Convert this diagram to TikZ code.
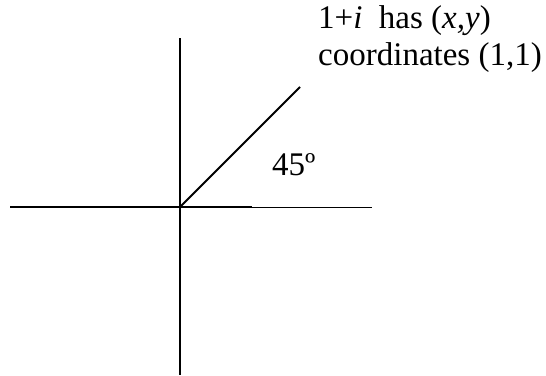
\documentclass[tikz,border=0pt]{standalone}
\usepackage{fontspec}
\setmainfont{Liberation Serif}
\begin{document}
\begin{tikzpicture}[x=1pt,y=-1pt,
  axis/.style={line width=1.8pt},
  thinaxis/.style={line width=1pt},
  lbl/.style={anchor=base west,inner sep=0pt,font=\fontsize{33}{38}\selectfont}]
\useasboundingbox (0,0) rectangle (546,375);
\coordinate (O) at (180,207);
\coordinate (L) at (10,207);
\coordinate (M) at (252,207);
\coordinate (R) at (372,207);
\coordinate (T) at (180,38);
\coordinate (B) at (180,375);
\coordinate (P) at (300,87);
\draw[axis] (L) -- (M);
\draw[thinaxis] (M) -- (R);
\draw[axis] (T) -- (B);
\draw[axis] (O) -- (P);
\node[lbl] (t1) at (318,28) {1+\textit{i}\ \ has (\textit{x,y})};
\node[lbl] (t2) at (318,65) {coordinates (1,1)};
\node[lbl] (ang) at (272,175) {45º};
\end{tikzpicture}
\end{document}
